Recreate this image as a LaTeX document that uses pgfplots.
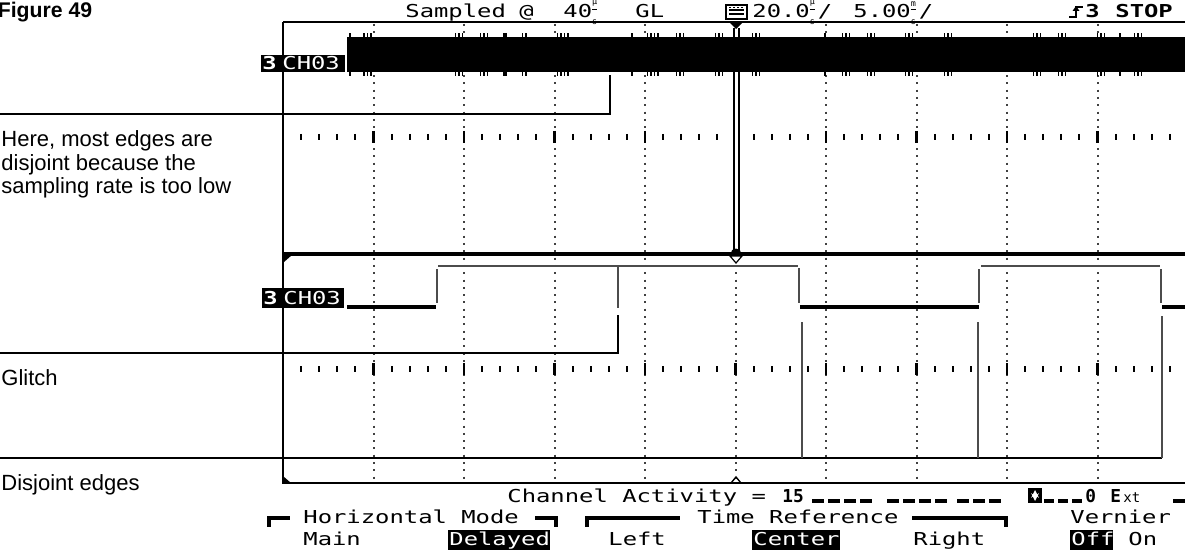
\documentclass[border=0pt]{standalone}
\usepackage{pgfplots}
\usepackage{pgfplotstable}
\pgfplotsset{compat=1.18}
\usepackage{fontspec}
\setmainfont{Liberation Sans}
\newfontfamily\scrfam[FakeStretch=1.34]{DejaVu Sans Mono}
\newfontfamily\scrnarrow{DejaVu Sans Mono}
\newcommand\scr{\scrfam\fontsize{8.9pt}{9pt}\selectfont}
\newcommand\scrn{\scrnarrow\fontsize{8.9pt}{9pt}\selectfont\bfseries}
\newcommand\unitg[1]{\raisebox{-3.3pt}{\scrnarrow\fontsize{4.2pt}{4.2pt}\selectfont\shortstack[c]{\underline{#1}\\[1.7pt]s}}}
\definecolor{trace}{gray}{0.3}
\definecolor{dots}{gray}{0.25}

% edge marks of the undersampled main-window trace (pixel x positions)
\pgfplotstableread{
x top bot
350 35 74
364 35 74
367.5 35 74
371 35 74
455.5 35 74
459 35 74
462.5 35 74
480.5 35 74
484 35 74
487.5 35 74
504 35 74
506 35 74
522.5 35 74
526 35 74
557.5 35 74
561 35 74
564.5 35 74
568 35 74
632 35 74
647.5 35 74
651 35 74
654.5 35 74
658 35 74
676.5 35 74
680 35 74
683.5 35 74
715.5 35 74
719 35 74
722.5 35 74
752.5 35 74
756 35 74
759.5 35 74
825 35 74
842.5 35 74
846 35 74
849.5 35 74
867.5 35 74
871 35 74
874.5 35 74
905.5 35 74
909 35 74
912.5 35 74
944.5 35 74
948 35 74
951.5 35 74
1033.5 35 74
1037 35 74
1040.5 35 74
1058.5 35 74
1062 35 74
1065.5 35 74
1097.5 35 74
1101 35 74
1104.5 35 74
1120 35 74
1134.5 35 74
1138 35 74
1141.5 35 74
}\bandedges

\begin{document}
\begin{tikzpicture}
\useasboundingbox (0,0) rectangle (592.5pt,276.5pt);
\clip (0,0) rectangle (592.5pt,276.5pt);
% ---------------- background graticule and annotations ----------------
\begin{scope}[x=0.5pt,y=-0.5pt,yshift=276.5pt]
  % dotted vertical gridlines
  \foreach \m in {1,...,9}{
    \draw[dots,line width=1pt,dash pattern=on 1pt off 2.65pt] ({283+90.5*\m},24) -- ({283+90.5*\m},483);
  }
  % centre tick rows
  \foreach \yy in {137,369}{
    \foreach \k in {1,...,49}{
      \draw[black,line width=1pt] ({283+18.1*\k},\yy-3) -- ({283+18.1*\k},\yy+3);
    }
    \foreach \m in {1,...,9}{
      \draw[black,line width=1.4pt] ({283+90.5*\m},\yy-6) -- ({283+90.5*\m},\yy+6);
    }
  }
  % graticule frame
  \draw[black,line width=0.8pt] (283,22) -- (1190,22);
  \draw[black,line width=1pt] (283,22) -- (283,483) -- (1190,483);
  \fill[black] (283,476) -- (291,483) -- (283,483) -- cycle;
  \draw[black,line width=1.8pt] (283,254) -- (1190,254);
  \fill[black] (284,255) -- (292,255) -- (284,262) -- cycle;
  \draw[black,line width=0.7pt] (731,483) -- (736,477) -- (741,483);
  % annotation lines
  \draw[black,line width=0.75pt] (0,114) -- (610,114) -- (610,75);
  \draw[black,line width=0.75pt] (0,353) -- (618,353) -- (618,315);
  \draw[black,line width=0.75pt] (0,458) -- (1162,458);
  \draw[trace,line width=1pt] (802,322) -- (802,458);
  \draw[trace,line width=1pt] (978,322) -- (978,458);
  \draw[trace,line width=1pt] (1162,316) -- (1162,458);
  % left annotation text
  \node[anchor=base west,inner sep=0,font=\bfseries\fontsize{10.6pt}{12pt}\selectfont] at (-2.5,18) {Figure 49};
  \node[anchor=base west,inner sep=0,font=\fontsize{11pt}{12pt}\selectfont] at (1,146) {Here, most edges are};
  \node[anchor=base west,inner sep=0,font=\fontsize{11pt}{12pt}\selectfont] at (1,170) {disjoint because the};
  \node[anchor=base west,inner sep=0,font=\fontsize{11pt}{12pt}\selectfont] at (1,194) {sampling rate is too low};
  \node[anchor=base west,inner sep=0,font=\fontsize{11pt}{12pt}\selectfont] at (1,385) {Glitch};
  \node[anchor=base west,inner sep=0,font=\fontsize{11pt}{12pt}\selectfont] at (1,490) {Disjoint edges};
  % top status line
  \node[anchor=base west,inner sep=0,font=\scr] at (405,18) {Sampled};
  \node[anchor=base west,inner sep=0,font=\scr] at (519,18) {@};
  \node[anchor=base west,inner sep=0,font=\scr] at (563,18) {40\unitg{µ}};
  \node[anchor=base west,inner sep=0,font=\scr] at (635,18) {GL};
  \draw[black,line width=0.9pt] (726,5) rectangle (747,19);
  \draw[black,line width=0.7pt] (729,10) -- (744,10);
  \draw[black,line width=0.7pt] (729,14) -- (744,14);
  \draw[black,line width=0.6pt,dash pattern=on 1pt off 1pt] (729,7.5) -- (744,7.5);
  \node[anchor=base west,inner sep=0,font=\scr] at (752,18) {20.0\unitg{µ}\hspace{1.5pt}/};
  \node[anchor=base west,inner sep=0,font=\scr] at (853,18) {5.00\unitg{m}\hspace{1.5pt}/};
  \draw[black,line width=1.1pt] (1069,17) -- (1076,17) -- (1076,7) -- (1083,7);
  \fill[black] (1072.5,11) -- (1076,6) -- (1079.5,11) -- cycle;
  \node[anchor=base west,inner sep=0,font=\scr\bfseries] at (1085,18) {3};
  \node[anchor=base west,inner sep=0,font=\scr\bfseries] at (1115,18) {STOP};
  % bottom lines
  \node[anchor=base west,inner sep=0,font=\scr] at (507,502) {Channel Activity =};
  \node[anchor=base west,inner sep=0,font=\scrn] at (782,502) {15};
  \foreach \s in {812,887}{
    \foreach \d in {0,1,2,3}{ \fill[black] ({\s+16*\d},499) rectangle ({\s+16*\d+12},502.5); }
  }
  \foreach \d in {0,1,2}{ \fill[black] ({957+16*\d},499) rectangle ({957+16*\d+12},502.5); }
  \fill[black] (1028,488) rectangle (1042,503);
  \draw[white,line width=0.7pt,<->,>=stealth] (1035,490) -- (1035,501);
  \foreach \d in {0,1,2}{ \fill[black] ({1044+14*\d},499) rectangle ({1044+14*\d+10},502.5); }
  \node[anchor=base west,inner sep=0,font=\scrn] at (1085,502) {0};
  \node[anchor=base west,inner sep=0,font=\scrn] at (1110,502) {E};
  \node[anchor=base west,inner sep=0,font=\scrnarrow\fontsize{7pt}{7pt}\selectfont] at (1123,502) {xt};
  \fill[black] (1173,499) rectangle (1186,502.5);
  % line 2
  \fill[black] (267,516) rectangle (290,520);
  \fill[black] (267,516) rectangle (271,527);
  \fill[black] (535,516) rectangle (558,520);
  \fill[black] (554,516) rectangle (558,527);
  \fill[black] (585,516) rectangle (680,520);
  \fill[black] (585,516) rectangle (589,527);
  \fill[black] (912,516) rectangle (1008,520);
  \fill[black] (1004,516) rectangle (1008,527);
  \node[anchor=base west,inner sep=0,font=\scr] at (303,523) {Horizontal Mode};
  \node[anchor=base west,inner sep=0,font=\scr] at (697,523) {Time Reference};
  \node[anchor=base west,inner sep=0,font=\scr] at (1070,523) {Vernier};
  % line 3
  \node[anchor=base west,inner sep=0,font=\scr] at (303,545) {Main};
  \fill[black] (448,530) rectangle (550,550);
  \node[anchor=base west,inner sep=0,font=\scr,white] at (449,545) {Delayed};
  \node[anchor=base west,inner sep=0,font=\scr] at (608,545) {Left};
  \fill[black] (752,530) rectangle (840,550);
  \node[anchor=base west,inner sep=0,font=\scr,white] at (753,545) {Center};
  \node[anchor=base west,inner sep=0,font=\scr] at (913,545) {Right};
  \fill[black] (1070,530) rectangle (1113,550);
  \node[anchor=base west,inner sep=0,font=\scr,white] at (1071,545) {Off};
  \node[anchor=base west,inner sep=0,font=\scr] at (1128,545) {On};
\end{scope}

% ---------------- the traces ----------------
\begin{axis}[at={(0,0)},anchor=south west,scale only axis,
  width=592.5pt,height=276.5pt,
  xmin=0,xmax=1185,ymin=0,ymax=553,y dir=reverse,
  hide axis,clip=false,unbounded coords=jump]
  % main window: undersampled trace fills a solid band
  \addplot[fill=black,draw=none] coordinates {(347,37) (1185,37) (1185,72) (347,72)} -- cycle;
  \addplot[only marks,mark=|,mark size=1pt,mark options={line width=0.6pt,black}] table[x=x,y=top]{\bandedges};
  \addplot[only marks,mark=|,mark size=1pt,mark options={line width=0.6pt,black}] table[x=x,y=bot]{\bandedges};
  % delayed window: high level
  \addplot[trace,line width=1pt] coordinates {(438,266) (798,266) (798,nan) (981,266) (1160,266)};
  % delayed window: low level
  \addplot[black,line width=2pt] coordinates {(347,307) (436,307) (436,nan) (800,307) (979,307) (979,nan) (1162,307) (1185,307)};
  % delayed window: edges and glitch
  \addplot[trace,line width=1pt] coordinates {(437,269) (437,303) (437,nan) (618,267) (618,308) (618,nan)
     (799,268) (799,303) (799,nan) (979,269) (979,303) (979,nan) (1161,269) (1161,303)};
\end{axis}

% ---------------- overlays ----------------
\begin{scope}[x=0.5pt,y=-0.5pt,yshift=276.5pt]
  % channel labels
  \fill[black] (261,55) rectangle (345,72);
  \node[anchor=base west,inner sep=0,font=\scr\bfseries,white] at (262,70) {3};
  \node[anchor=base west,inner sep=0,font=\scr,white] at (282,70) {CH03};
  \fill[black] (262,288) rectangle (344,308);
  \node[anchor=base west,inner sep=0,font=\scr\bfseries,white] at (263,304) {3};
  \node[anchor=base west,inner sep=0,font=\scr,white] at (283,304) {CH03};
  % trigger marker
  \fill[white] (735,28) rectangle (738,37);
  \fill[white] (735,72) rectangle (738,250);
  \draw[black,line width=1pt] (734,28) -- (734,250);
  \draw[black,line width=1pt] (739,28) -- (739,250);
  \fill[black] (729,22) -- (743,22) -- (736,29) -- cycle;
  \fill[black] (736,254) circle (5.5);
  \draw[black,line width=0.6pt,fill=white] (730,256) -- (742,256) -- (736,263) -- cycle;
\end{scope}
\end{tikzpicture}
\end{document}
